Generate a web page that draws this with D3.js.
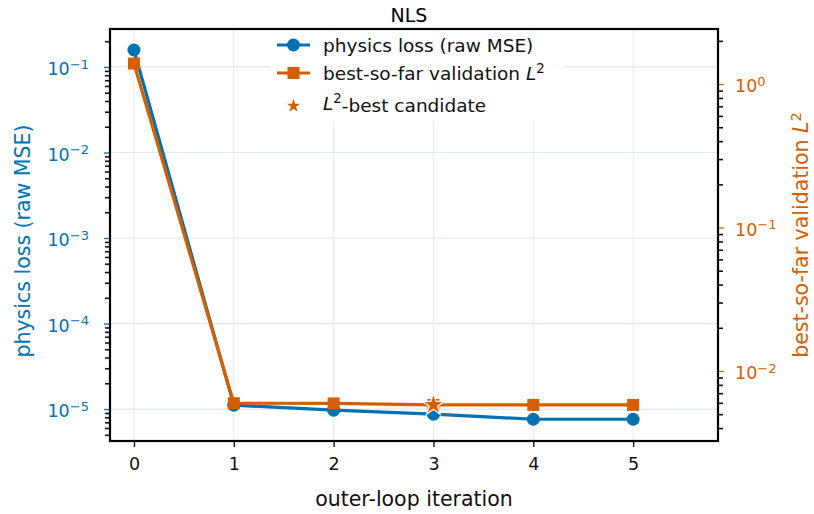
<!DOCTYPE html>
<html><head><meta charset="utf-8">
<script src="https://cdn.jsdelivr.net/npm/d3@7"></script>
<style>body{margin:0;background:#fff}svg{font-family:"DejaVu Sans",sans-serif}</style>
</head><body><svg id="c" width="814" height="514"></svg>
<script>
const iterations = [0, 1, 2, 3, 4, 5];
const physicsLoss = [0.158, 1.11e-5, 9.7e-6, 8.7e-6, 7.6e-6, 7.6e-6];
const bestL2 = [1.39, 0.00596, 0.00594, 0.00580, 0.00580, 0.00580];
const bestCandidateIdx = 3;
const xTicks = [0, 1, 2, 3, 4, 5];
const leftTickExp = [-1, -2, -3, -4, -5];
const rightTickExp = [0, -1, -2];
const title = "NLS";

const BLUE = "#0072b2", ORANGE = "#d55e00";
const L = 110, R = 718, T = 29, B = 441;
const TICKFS = 17.5, LEGFS = 18.5, LABFS = 20.5;
const svg = d3.select("#c");
const x = d3.scaleLinear().domain([-0.24, 5.85]).range([L, R]);
const yL = d3.scaleLog().domain([4.23e-6, 0.278]).range([B, T]);
const yR = d3.scaleLog().domain([0.00325, 2.42]).range([B, T]);

// grid
const g = svg.append("g");
xTicks.forEach(v => g.append("line").attr("x1", x(v)).attr("x2", x(v)).attr("y1", T).attr("y2", B)
  .attr("stroke", "#e8ecec").attr("stroke-width", 1));
leftTickExp.forEach(e => g.append("line").attr("x1", L).attr("x2", R).attr("y1", yL(Math.pow(10, e))).attr("y2", yL(Math.pow(10, e)))
  .attr("stroke", "#e3e8e8").attr("stroke-width", 1.2));

function minors(scale) {
  const [a, b] = scale.domain();
  const out = [];
  for (let e = Math.floor(Math.log10(a)); e <= Math.ceil(Math.log10(b)); e++)
    for (let m = 2; m <= 9; m++) { const v = m * Math.pow(10, e); if (v >= a && v <= b) out.push(v); }
  return out;
}

function supLabel(sel, exp) {
  sel.text(null);
  sel.append("tspan").text("10");
  sel.append("tspan").attr("dy", "-0.52em").attr("font-size", "0.75em").text(exp < 0 ? "\u2212" + Math.abs(exp) : String(exp));
}

// left axis
const axL = svg.append("g").attr("transform", `translate(${L},0)`);
axL.call(d3.axisLeft(yL).tickValues(minors(yL)).tickSize(5).tickFormat(""));
axL.selectAll(".tick line").attr("stroke", "#111").attr("stroke-width", 1.6);
axL.select(".domain").remove();
const axLM = svg.append("g").attr("transform", `translate(${L},0)`);
axLM.call(d3.axisLeft(yL).tickValues(leftTickExp.map(e => Math.pow(10, e))).tickSize(6).tickPadding(15));
axLM.select(".domain").remove();
axLM.selectAll(".tick line").attr("stroke", BLUE).attr("stroke-width", 1.3);
axLM.selectAll(".tick text").attr("fill", BLUE).attr("font-size", TICKFS).attr("font-family", "DejaVu Sans").attr("dy", "0.45em")
  .each(function (d) { supLabel(d3.select(this), Math.round(Math.log10(d))); });

// right axis
const axR = svg.append("g").attr("transform", `translate(${R},0)`);
axR.call(d3.axisRight(yR).tickValues(minors(yR)).tickSize(5).tickFormat(""));
axR.selectAll(".tick line").attr("stroke", "#111").attr("stroke-width", 1.6);
axR.select(".domain").remove();
const axRM = svg.append("g").attr("transform", `translate(${R},0)`);
axRM.call(d3.axisRight(yR).tickValues(rightTickExp.map(e => Math.pow(10, e))).tickSize(6).tickPadding(11));
axRM.select(".domain").remove();
axRM.selectAll(".tick line").attr("stroke", ORANGE).attr("stroke-width", 1.3);
axRM.selectAll(".tick text").attr("fill", ORANGE).attr("font-size", TICKFS).attr("font-family", "DejaVu Sans").attr("dy", "0.45em")
  .each(function (d) { supLabel(d3.select(this), Math.round(Math.log10(d))); });

// x axis
const axX = svg.append("g").attr("transform", `translate(0,${B})`);
axX.call(d3.axisBottom(x).tickValues(xTicks).tickSize(6).tickPadding(11).tickFormat(d3.format("d")));
axX.select(".domain").remove();
axX.selectAll(".tick line").attr("stroke", "#111").attr("stroke-width", 1.4);
axX.selectAll(".tick text").attr("fill", "#111").attr("font-size", TICKFS).attr("font-family", "DejaVu Sans");

// series
const lineL = d3.line().x((d, i) => x(iterations[i])).y(d => yL(d));
const lineR = d3.line().x((d, i) => x(iterations[i])).y(d => yR(d));
svg.append("path").datum(physicsLoss).attr("d", lineL).attr("fill", "none").attr("stroke", BLUE).attr("stroke-width", 3.2).attr("stroke-linejoin", "round");
svg.selectAll(".pt").data(physicsLoss).enter().append("circle")
  .attr("cx", (d, i) => x(iterations[i])).attr("cy", d => yL(d)).attr("r", 6.5).attr("fill", BLUE);
svg.append("path").datum(bestL2).attr("d", lineR).attr("fill", "none").attr("stroke", ORANGE).attr("stroke-width", 3.2).attr("stroke-linejoin", "round");
svg.selectAll(".sq").data(bestL2).enter().append("rect")
  .attr("x", (d, i) => x(iterations[i]) - 6).attr("y", d => yR(d) - 6).attr("width", 12).attr("height", 12).attr("fill", ORANGE);
svg.append("path").attr("d", d3.symbol(d3.symbolStar, 150)())
  .attr("transform", `translate(${x(iterations[bestCandidateIdx])},${yR(bestL2[bestCandidateIdx])})`)
  .attr("fill", ORANGE).attr("stroke", "#fff").attr("stroke-width", 1.3);

// spines
svg.append("rect").attr("x", L).attr("y", T).attr("width", R - L).attr("height", B - T)
  .attr("fill", "none").attr("stroke", "#000").attr("stroke-width", 2.2);

// legend
const lg = svg.append("g");
lg.append("rect").attr("x", 271).attr("y", 31).attr("width", 292).attr("height", 90).attr("fill", "#fff").attr("opacity", 0.85);
const ly = [45, 73, 103];
lg.append("line").attr("x1", 277).attr("x2", 310).attr("y1", ly[0]).attr("y2", ly[0]).attr("stroke", BLUE).attr("stroke-width", 3.2);
lg.append("circle").attr("cx", 293.5).attr("cy", ly[0]).attr("r", 6.5).attr("fill", BLUE);
lg.append("line").attr("x1", 277).attr("x2", 310).attr("y1", ly[1]).attr("y2", ly[1]).attr("stroke", ORANGE).attr("stroke-width", 3.2);
lg.append("rect").attr("x", 287.5).attr("y", ly[1] - 6).attr("width", 12).attr("height", 12).attr("fill", ORANGE);
lg.append("path").attr("d", d3.symbol(d3.symbolStar, 55)()).attr("transform", `translate(293.5,${ly[2] + 3})`).attr("fill", ORANGE);
const lt = lg.append("g").attr("font-size", LEGFS).attr("fill", "#111");
lt.append("text").attr("x", 323).attr("y", ly[0] + 6.5).text("physics loss (raw MSE)");
const t2 = lt.append("text").attr("x", 323).attr("y", ly[1] + 6.5);
t2.append("tspan").text("best-so-far validation ");
t2.append("tspan").attr("font-style", "italic").text("L");
t2.append("tspan").attr("dy", "-0.5em").attr("font-size", "0.72em").text("2");
const t3 = lt.append("text").attr("x", 323).attr("y", ly[2] + 6.5);
t3.append("tspan").attr("font-style", "italic").text("L");
t3.append("tspan").attr("dy", "-0.5em").attr("font-size", "0.72em").text("2");
t3.append("tspan").attr("dy", "0.5em").text("-best candidate");

// title & labels
svg.append("text").attr("x", 409).attr("y", 22).attr("text-anchor", "middle").attr("font-size", 19).attr("fill", "#000").text(title);
svg.append("text").attr("x", (L + R) / 2).attr("y", 506).attr("text-anchor", "middle").attr("font-size", LABFS).attr("fill", "#111").text("outer-loop iteration");
svg.append("text").attr("transform", `translate(30,${(T + B) / 2 + 6}) rotate(-90)`).attr("text-anchor", "middle").attr("font-size", LABFS).attr("fill", BLUE).text("physics loss (raw MSE)");
const rl = svg.append("text").attr("transform", `translate(808,${(T + B) / 2}) rotate(-90)`).attr("text-anchor", "middle").attr("font-size", LABFS).attr("fill", ORANGE);
rl.append("tspan").text("best-so-far validation ");
rl.append("tspan").attr("font-style", "italic").text("L");
rl.append("tspan").attr("dy", "-0.5em").attr("font-size", "0.72em").text("2");
</script></body></html>
